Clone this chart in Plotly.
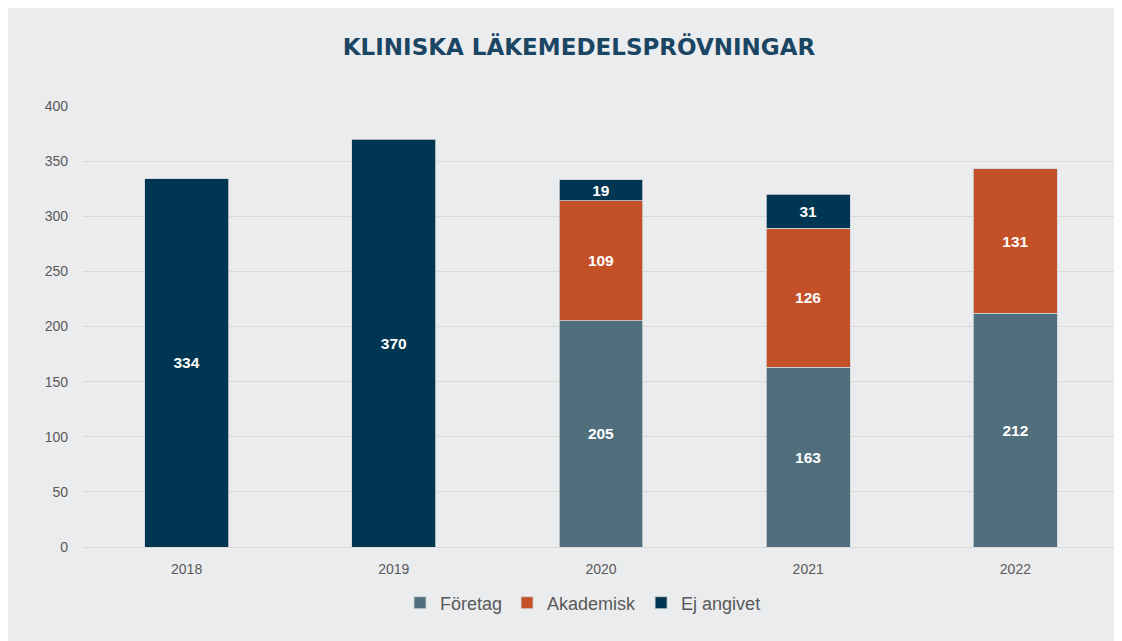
import plotly.graph_objects as go

years = ["2018", "2019", "2020", "2021", "2022"]
foretag = [None, None, 205, 163, 212]
akademisk = [None, None, 109, 126, 131]
ej_angivet = [334, 370, 19, 31, None]

colors = {"Företag": "#506E7B", "Akademisk": "#C45027", "Ej angivet": "#003651"}

fig = go.Figure()
for name, vals in [("Företag", foretag), ("Akademisk", akademisk), ("Ej angivet", ej_angivet)]:
    fig.add_trace(go.Bar(
        x=years, y=vals, name=name,
        marker=dict(color=colors[name], line=dict(color="#cfd4d8", width=0.8)),
        text=[str(v) if v is not None else "" for v in vals],
        textposition="inside", insidetextanchor="middle", textangle=0,
        constraintext="none",
        textfont=dict(family="Liberation Sans, Arial", size=15.5, color="white", weight="bold"),
        hoverinfo="x+y+name",
    ))

OFF = 8  # page body margin
W, H = 1122, 641
L, R, T, B = 83 - OFF, 1119 - OFF, 106 - OFF, 547 - OFF
pw, ph = R - L, B - T

fig.update_layout(
    barmode="stack",
    width=W, height=H,
    margin=dict(l=L, r=W - R, t=T, b=H - B),
    paper_bgcolor="#EBECEE",
    plot_bgcolor="rgba(0,0,0,0)",
    bargap=0.595,
    showlegend=True,
    title=dict(text="KLINISKA LÄKEMEDELSPRÖVNINGAR", x=(579 - OFF) / W, xanchor="center",
               y=1 - (47 - OFF) / H, yanchor="middle",
               font=dict(family="DejaVu Sans", size=23, color="#1A4563", weight="bold")),
    legend=dict(orientation="h", x=(583 - OFF - L) / pw, xanchor="center",
                y=(B - (603 - OFF)) / ph, yanchor="middle",
                font=dict(family="Liberation Sans, Arial", size=18, color="#595959"),
                traceorder="normal", itemwidth=30, bgcolor="rgba(0,0,0,0)"),
    font=dict(family="Liberation Sans, Arial", color="#595959"),
)
fig.update_yaxes(range=[0, 400], dtick=50, showgrid=True, gridcolor="#D9D9D9", gridwidth=1,
                 zeroline=True, zerolinecolor="#D9D9D9", zerolinewidth=1, showline=False,
                 ticks="", ticklabelstandoff=14,
                 tickfont=dict(family="Liberation Sans, Arial", size=14, color="#595959"))
fig.update_xaxes(showgrid=False, showline=False, ticks="", ticklabelstandoff=12,
                 tickfont=dict(family="Liberation Sans, Arial", size=14, color="#595959"))

fig.write_html("out.html")
